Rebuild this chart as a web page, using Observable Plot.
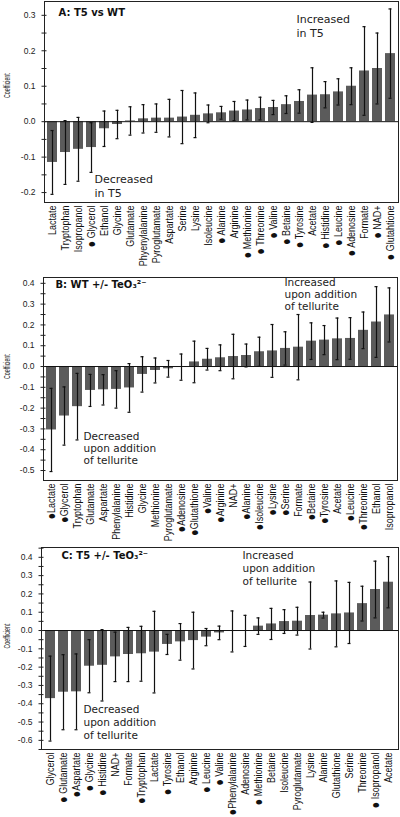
<!DOCTYPE html>
<html>
<head>
<meta charset="utf-8">
<script src="https://cdn.jsdelivr.net/npm/d3@7"></script>
<script src="https://cdn.jsdelivr.net/npm/@observablehq/plot@0.6"></script>
<style>
  html, body { margin: 0; padding: 0; background: #fff; }
  #wrap { position: relative; width: 400px; height: 817px; overflow: hidden; background: #fff; }
  #wrap svg { position: absolute; left: 0; background: transparent; }
</style>
</head>
<body>
<div id="wrap"></div>
<script>
// ---------- Panel A: T5 vs WT ----------
const catsA = ["Lactate","Tryptophan","Isopropanol","● Glycerol","Ethanol","Glycine","Glutamate","Phyenylalanine","Pyroglutamate","Aspartate","Serine","Lysine","Isoleucine","● Alanine","Arginine","● Methionine","● Threonine","● Valine","● Betaine","● Tyrosine","Acetate","● Histidine","● Leucine","● Adenosine","Formate","● NAD+","● Glutahtione"];
const valsA = [-0.115,-0.087,-0.078,-0.073,-0.02,-0.008,0.002,0.008,0.01,0.01,0.013,0.018,0.022,0.025,0.03,0.033,0.037,0.04,0.048,0.057,0.075,0.076,0.084,0.1,0.143,0.15,0.192];
const errsA = [0.09,0.09,0.09,0.07,0.05,0.04,0.04,0.04,0.04,0.053,0.075,0.063,0.025,0.018,0.027,0.028,0.032,0.02,0.025,0.033,0.077,0.037,0.037,0.052,0.125,0.1,0.126];
const yTicksA = [-0.2,-0.1,0,0.1,0.2,0.3];
const yLabelsA = ["-0.2","-0.1","0.0","0.1","0.2","0.3"];

// ---------- Panel B: WT +/- TeO3 2- ----------
const catsB = ["●Lactate","●Glycerol","Tryptophan","Glutamate","Aspartate","Phenylalanine","Histidine","Glycine","Methionine","Pyroglutamate","●Adenosine","●Glutathione","●Valine","●Arginine","NAD+","●Alanine","●Isoleucine","●Lysine","●Serine","Formate","●Betaine","●Tyrosine","Acetate","●Leucine","●Threonine","Ethanol","Isopropanol"];
const valsB = [-0.305,-0.238,-0.193,-0.115,-0.112,-0.11,-0.103,-0.038,-0.019,-0.011,-0.003,0.022,0.035,0.042,0.048,0.053,0.071,0.075,0.087,0.093,0.122,0.127,0.133,0.135,0.174,0.214,0.248];
const errsB = [0.2,0.14,0.16,0.077,0.073,0.09,0.117,0.085,0.06,0.04,0.063,0.1,0.052,0.062,0.107,0.055,0.07,0.127,0.08,0.157,0.088,0.07,0.1,0.1,0.088,0.17,0.13];
const yTicksB = [-0.5,-0.4,-0.3,-0.2,-0.1,0,0.1,0.2,0.3,0.4];
const yLabelsB = ["-0.5","-0.4","-0.3","-0.2","-0.1","0.0","0.1","0.2","0.3","0.4"];

// ---------- Panel C: T5 +/- TeO3 2- ----------
const catsC = ["Glycerol","● Glutamate","●Aspartate","● Glycine","● Histidine","NAD+","Formate","●Tryptophan","Lactate","● Tyrosine","Ethanol","Arginine","● Leucine","● Valine","●Phenylalanine","Adenosine","● Methionine","Betaine","Isoleucine","Pyroglutamate","Lysine","Alanine","Glutathione","Serine","Threonine","● Isopropanol","Acetate"];
const valsC = [-0.372,-0.337,-0.335,-0.195,-0.19,-0.144,-0.131,-0.127,-0.118,-0.076,-0.062,-0.055,-0.036,-0.013,-0.005,-0.002,0.024,0.036,0.049,0.051,0.082,0.084,0.091,0.096,0.147,0.224,0.264];
const errsC = [0.232,0.205,0.207,0.145,0.195,0.135,0.148,0.15,0.223,0.055,0.1,0.155,0.047,0.037,0.112,0.085,0.045,0.085,0.065,0.076,0.183,0.016,0.18,0.167,0.095,0.155,0.14];
const yTicksC = [-0.6,-0.5,-0.4,-0.3,-0.2,-0.1,0,0.1,0.2,0.3,0.4];
const yLabelsC = ["-0.6","-0.5","-0.4","-0.3","-0.2","-0.1","0.0","0.1","0.2","0.3","0.4"];

// ---------- Text ----------
const titleA = "A: T5 vs WT";
const titleB = "B: WT +/- TeO₃²⁻";
const titleC = "C: T5 +/- TeO₃²⁻";
const upA = "Increased\nin T5", downA = "Decreased\nin T5";
const upTe = "Increased\nupon addition\nof tellurite", downTe = "Decreased\nupon addition\nof tellurite";
const yTitle = "Coefficient";

const LAB = "'Liberation Sans',Arial,sans-serif";
const WIDE = "'DejaVu Sans',Verdana,sans-serif";

function panel(cfg) {
  const data = cfg.cats.map((c, i) => ({cat: c, val: cfg.vals[i], err: cfg.errs[i]}));
  const minor = [cfg.ticks[0] - 0.05];
  cfg.ticks.forEach(t => { minor.push(t); minor.push(t + 0.05); });
  const ticksAll = minor.filter(t => t >= cfg.domain[0] && t <= cfg.domain[1]);
  const svg = Plot.plot({
    width: 400,
    height: cfg.height,
    marginTop: cfg.mt,
    marginBottom: cfg.mb,
    marginLeft: cfg.ml,
    marginRight: cfg.mr,
    style: {fontFamily: LAB, background: "transparent", overflow: "visible"},
    x: {domain: cfg.cats, paddingInner: 0.2, paddingOuter: 0.05, axis: null},
    y: {domain: cfg.domain, axis: null},
    marks: [
      Plot.barY(data, {x: "cat", y: "val", fill: "#5b5b5b"}),
      Plot.ruleY([0], {stroke: "#111", strokeWidth: 1}),
      Plot.ruleX(data, {x: "cat", y1: d => d.val - d.err, y2: d => d.val + d.err, stroke: "#111", strokeWidth: 1.2}),
      Plot.tickY(data, {x: "cat", y: d => d.val + d.err, stroke: "#111", strokeWidth: 1.2, insetLeft: 3.5, insetRight: 3.5}),
      Plot.tickY(data, {x: "cat", y: d => d.val - d.err, stroke: "#111", strokeWidth: 1.2, insetLeft: 3.5, insetRight: 3.5}),
      Plot.frame({stroke: "#222", strokeWidth: 1}),
      Plot.axisY(ticksAll, {tickSize: 5, dx: 2.5, tickFormat: () => "", stroke: "#222", label: null}),
      Plot.axisY(cfg.ticks, {tickSize: 0, tickPadding: 9, tickFormat: (d, i) => cfg.labels[i], fontSize: 8.5, fill: "#222", fontFamily: LAB, letterSpacing: 0.8, label: null}),
      Plot.axisX({tickSize: 0, tickPadding: 3, tickRotate: -90, fontSize: 11.5, fontFamily: LAB, fill: "#111", label: null}),
      Plot.text([yTitle], {frameAnchor: "left", dx: cfg.yTitleDx, dy: cfg.yTitleDy, rotate: -90, fontSize: 8.5, fontFamily: LAB, fill: "#222"}),
      Plot.text([cfg.title], {frameAnchor: "top-left", dx: cfg.titleDx, dy: cfg.titleDy, lineAnchor: "top", textAnchor: "start", fontSize: 10, fontWeight: "bold", fontFamily: WIDE, fill: "#111", letterSpacing: 0.9}),
      Plot.text([cfg.up], {frameAnchor: "top-left", dx: cfg.upDx, dy: cfg.upDy, lineAnchor: "top", textAnchor: "start", fontSize: cfg.annF, lineHeight: cfg.annLH, fontFamily: WIDE, fill: "#222", letterSpacing: cfg.annLS}),
      Plot.text([cfg.down], {frameAnchor: "top-left", dx: cfg.downDx, dy: cfg.downDy, lineAnchor: "top", textAnchor: "start", fontSize: cfg.annF, lineHeight: cfg.annLH, fontFamily: WIDE, fill: "#222", letterSpacing: cfg.annLS})
    ]
  });
  // condense rotated labels along their reading direction (narrow look of the original)
  d3.select(svg).selectAll('g[aria-label="x-axis tick label"] text').each(function () {
    const t = this.getAttribute("transform") || "";
    this.setAttribute("transform", t + " scale(0.78,1)");
    const s = this.textContent;
    if (s.startsWith("●")) {
      const rest = s.slice(1);
      this.textContent = "";
      d3.select(this).append("tspan").attr("font-size", 14).attr("dy", "0.05em").text("●");
      d3.select(this).append("tspan").attr("dy", "-0.05em").text(rest);
    }
  });
  d3.select(svg).selectAll('g[aria-label="text"] text').filter(function () { return this.textContent === yTitle; }).each(function () {
    const t = this.getAttribute("transform") || "";
    this.setAttribute("transform", t + " scale(0.62,1)");
  });
  return svg;
}

const wrap = document.getElementById("wrap");

const pA = panel({cats: catsA, vals: valsA, errs: errsA, ticks: yTicksA, labels: yLabelsA,
  domain: [-0.228, 0.339], height: 272, mt: 1, mb: 70, ml: 44, mr: 2,
  title: titleA, titleDx: 14, titleDy: 7, up: upA, upDx: 252, upDy: 11, down: downA, downDx: 50, downDy: 171,
  annF: 11, annLH: 1.3, annLS: 0.3, yTitleDx: -37, yTitleDy: -4});
pA.style.top = "0px";
wrap.appendChild(pA);

const pB = panel({cats: catsB, vals: valsB, errs: errsB, ticks: yTicksB, labels: yLabelsB,
  domain: [-0.548, 0.428], height: 274, mt: 5, mb: 66, ml: 43, mr: 3,
  title: titleB, titleDx: 12, titleDy: 3, up: upTe, upDx: 241, upDy: 0, down: downTe, downDx: 40, downDy: 154,
  annF: 10.5, annLH: 1.15, annLS: 1.1, yTitleDx: -36, yTitleDy: 0});
pB.style.top = "272px";
wrap.appendChild(pB);

const pC = panel({cats: catsC, vals: valsC, errs: errsC, ticks: yTicksC, labels: yLabelsC,
  domain: [-0.65, 0.4536], height: 272, mt: 1, mb: 69, ml: 41, mr: 2,
  title: titleC, titleDx: 20, titleDy: 4, up: upTe, upDx: 201, upDy: 3, down: downTe, downDx: 42, downDy: 157,
  annF: 10.5, annLH: 1.2, annLS: 1.1, yTitleDx: -34, yTitleDy: 0});
pC.style.top = "546px";
wrap.appendChild(pC);
</script>
</body>
</html>
